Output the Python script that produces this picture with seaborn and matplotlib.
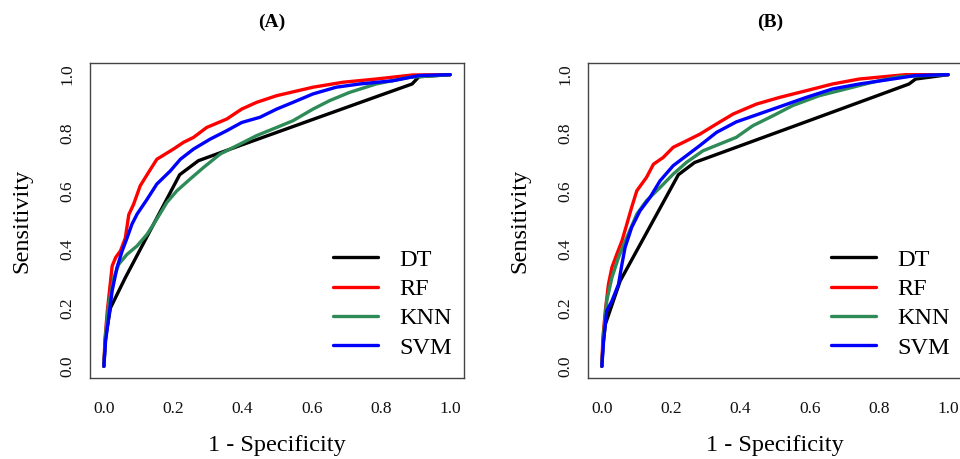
import pandas as pd
import seaborn as sns
import matplotlib.pyplot as plt

# ROC curves, panel (A)
a_dt_x = [0, 0.005, 0.019, 0.062, 0.219, 0.273, 0.398, 0.60, 0.80, 0.89, 0.91, 1.0]
a_dt_y = [0, 0.10, 0.20, 0.304, 0.657, 0.705, 0.759, 0.845, 0.93, 0.968, 0.993, 1.0]

a_rf_x = [0, 0.003, 0.01, 0.024, 0.034, 0.048, 0.062, 0.072, 0.086, 0.105, 0.129, 0.153,
          0.201, 0.23, 0.259, 0.297, 0.355, 0.398, 0.441, 0.499, 0.604, 0.69, 0.786, 0.892, 1.0]
a_rf_y = [0, 0.087, 0.19, 0.344, 0.373, 0.396, 0.44, 0.52, 0.556, 0.619, 0.665, 0.71,
          0.745, 0.768, 0.785, 0.819, 0.848, 0.882, 0.905, 0.928, 0.957, 0.974, 0.985, 0.999, 1.0]

a_knn_x = [0, 0.005, 0.014, 0.029, 0.043, 0.067, 0.096, 0.125, 0.153, 0.182, 0.211, 0.249,
           0.288, 0.336, 0.393, 0.441, 0.499, 0.546, 0.604, 0.652, 0.709, 0.786, 0.882, 1.0]
a_knn_y = [0, 0.11, 0.213, 0.304, 0.35, 0.384, 0.413, 0.453, 0.505, 0.562, 0.602, 0.642,
           0.682, 0.728, 0.762, 0.791, 0.819, 0.842, 0.882, 0.911, 0.939, 0.968, 0.991, 1.0]

a_svm_x = [0, 0.005, 0.014, 0.024, 0.038, 0.053, 0.067, 0.081, 0.096, 0.125, 0.153, 0.192,
           0.221, 0.259, 0.307, 0.355, 0.398, 0.451, 0.499, 0.546, 0.604, 0.671, 0.738, 0.834, 0.911, 1.0]
a_svm_y = [0, 0.087, 0.167, 0.259, 0.339, 0.396, 0.44, 0.487, 0.522, 0.573, 0.625, 0.67,
           0.71, 0.745, 0.779, 0.808, 0.836, 0.854, 0.882, 0.905, 0.934, 0.957, 0.968, 0.979, 0.997, 1.0]

# panel (B)
b_dt_x = [0, 0.003, 0.01, 0.053, 0.221, 0.268, 0.60, 0.80, 0.887, 0.906, 1.0]
b_dt_y = [0, 0.07, 0.144, 0.293, 0.657, 0.699, 0.843, 0.93, 0.968, 0.985, 1.0]

b_rf_x = [0, 0.003, 0.01, 0.019, 0.029, 0.043, 0.058, 0.072, 0.086, 0.101, 0.129, 0.149,
          0.177, 0.206, 0.244, 0.283, 0.331, 0.379, 0.446, 0.513, 0.59, 0.666, 0.743, 0.877, 1.0]
b_rf_y = [0, 0.098, 0.19, 0.281, 0.339, 0.384, 0.43, 0.487, 0.545, 0.602, 0.648, 0.693,
          0.716, 0.751, 0.773, 0.796, 0.831, 0.865, 0.899, 0.922, 0.945, 0.968, 0.985, 1.0, 1.0]

b_knn_x = [0, 0.005, 0.014, 0.029, 0.048, 0.072, 0.101, 0.129, 0.168, 0.206, 0.244, 0.292,
           0.34, 0.388, 0.436, 0.494, 0.551, 0.628, 0.705, 0.781, 0.858, 1.0]
b_knn_y = [0, 0.11, 0.224, 0.304, 0.373, 0.442, 0.522, 0.568, 0.613, 0.659, 0.699, 0.739,
           0.762, 0.785, 0.825, 0.859, 0.894, 0.928, 0.951, 0.974, 0.993, 1.0]

b_svm_x = [0, 0.005, 0.014, 0.029, 0.048, 0.058, 0.067, 0.086, 0.11, 0.139, 0.168, 0.206,
           0.244, 0.283, 0.331, 0.388, 0.446, 0.523, 0.59, 0.666, 0.743, 0.839, 0.906, 1.0]
b_svm_y = [0, 0.087, 0.19, 0.224, 0.281, 0.35, 0.407, 0.476, 0.533, 0.579, 0.636, 0.688,
           0.722, 0.757, 0.802, 0.838, 0.862, 0.894, 0.922, 0.951, 0.968, 0.985, 0.997, 1.0]

models = ["DT", "RF", "KNN", "SVM"]
colors = {"DT": "black", "RF": "#ff0000", "KNN": "#2e8b57", "SVM": "#0000ff"}
ticks = [0.0, 0.2, 0.4, 0.6, 0.8, 1.0]
tick_labels = ["0.0", "0.2", "0.4", "0.6", "0.8", "1.0"]

panels = {
    "(A)": {"DT": (a_dt_x, a_dt_y), "RF": (a_rf_x, a_rf_y),
            "KNN": (a_knn_x, a_knn_y), "SVM": (a_svm_x, a_svm_y)},
    "(B)": {"DT": (b_dt_x, b_dt_y), "RF": (b_rf_x, b_rf_y),
            "KNN": (b_knn_x, b_knn_y), "SVM": (b_svm_x, b_svm_y)},
}

sns.set_style("white")
plt.rcParams["font.family"] = ["Liberation Serif", "DejaVu Serif"]

fig = plt.figure(figsize=(9.6, 4.59), dpi=100)
# axes positions in figure fraction (R base-graphics look)
boxes = [[90 / 960, 81 / 459, 374 / 960, 315 / 459],
         [588 / 960, 81 / 459, 374 / 960, 315 / 459]]

for (title, curves), box in zip(panels.items(), boxes):
    ax = fig.add_axes(box)
    rows = []
    for m in models:
        xs, ys = curves[m]
        for x, y in zip(xs, ys):
            rows.append({"fpr": x, "tpr": y, "model": m})
    df = pd.DataFrame(rows)
    sns.lineplot(data=df, x="fpr", y="tpr", hue="model", hue_order=models,
                 palette=colors, estimator=None, sort=False, linewidth=2.4, ax=ax)

    ax.set_xlim(-0.04, 1.04)
    ax.set_ylim(-0.04, 1.04)
    ax.set_xticks(ticks)
    ax.set_xticklabels(tick_labels)
    ax.set_yticks(ticks)
    ax.set_yticklabels(tick_labels)
    ax.tick_params(axis="both", direction="out", length=6.5, width=1,
                   color="#333333", labelsize=12.5, labelcolor="#111111")
    ax.tick_params(axis="x", pad=10)
    ax.tick_params(axis="y", pad=4, labelrotation=90)
    plt.setp(ax.get_yticklabels(), va="center")
    for s in ax.spines.values():
        s.set_visible(True)
        s.set_color("#444444")
        s.set_linewidth(1)

    ax.set_xlabel("1 - Specificity", fontsize=17.5, va="center", color="black")
    ax.xaxis.set_label_coords(0.5, -0.213)
    ax.set_ylabel("Sensitivity", fontsize=17.5, va="center", color="black")
    ax.yaxis.set_label_coords(-0.182, 0.5)

    leg = ax.legend(title=None, frameon=False, fontsize=17.5, loc="upper left",
                    bbox_to_anchor=(0.649, 0.41), borderpad=0, borderaxespad=0,
                    handlelength=1.85, handletextpad=0.9, labelspacing=0.3)
    for t in leg.get_texts():
        t.set_color("black")

    cx = box[0] + box[2] / 2
    fig.text(cx - 0.005, 1 - 22 / 459, title, ha="center", va="center",
             fontsize=14, fontweight="bold", color="black")

fig.savefig("out.png", dpi=100)
